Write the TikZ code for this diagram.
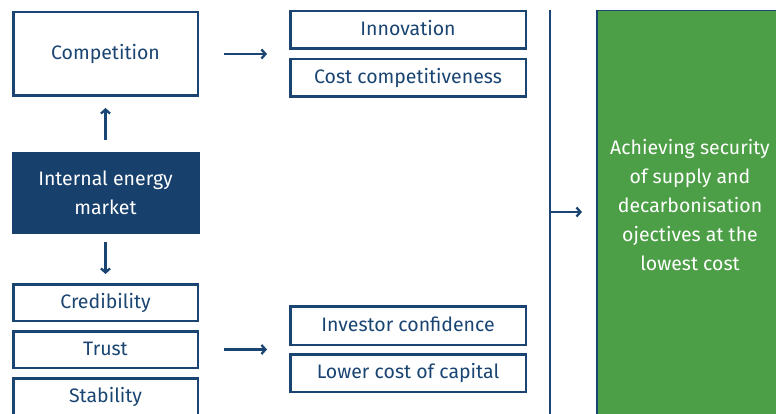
\documentclass[tikz,border=0pt]{standalone}
\usepackage{fontspec}
\setmainfont{Fira Sans}
\usetikzlibrary{arrows.meta,calc}
\definecolor{navy}{HTML}{1A4572}
\definecolor{navyfill}{HTML}{17406D}
\definecolor{goalgreen}{HTML}{4C9F46}
\begin{document}
\begin{tikzpicture}[x=1pt,y=-1pt,
  box/.style={draw=navy, line width=2.5pt, inner sep=0pt, text=navy, font=\fontsize{19.5}{22}\selectfont, text height=14pt, text depth=3pt, minimum width=184.5pt},
  darkbox/.style={fill=navyfill, draw=navyfill, line width=0pt, inner sep=0pt, text=white, align=center, font=\fontsize{19.5}{29}\selectfont, minimum width=187pt, minimum height=80pt},
  goalbox/.style={fill=goalgreen, draw=navy, line width=1.5pt, minimum width=188pt, minimum height=420pt, anchor=north west, inner sep=0pt},
  goaltext/.style={text=white, align=center, font=\fontsize{19.5}{28.8}\selectfont, inner sep=0pt},
  arr/.style={draw=navy, line width=2.3pt, -{Straight Barb[length=4pt,width=9pt]}},
  vline/.style={draw=navy, line width=2.2pt}]
\useasboundingbox[fill=white] (0,0) rectangle (776,414);
\node[box, minimum height=83.5pt] (comp) at (105.5,54) {Competition};
\node[box, minimum width=235.5pt, minimum height=37.5pt] (innov) at (408,30) {Innovation};
\node[box, minimum width=235.5pt, minimum height=37.5pt] (cost) at (408,78) {Cost competitiveness};
\node[darkbox] (iem) at (105.5,193) {Internal energy\\market};
\node[box, minimum height=36.5pt] (cred) at (105.5,302.5) {Credibility};
\node[box, minimum height=36.5pt] (trust) at (105.5,349.5) {Trust};
\node[box, minimum height=36.5pt] (stab) at (105.5,396.5) {Stability};
\node[box, minimum width=235.5pt, minimum height=38.5pt] (inv) at (408,325.5) {Investor confidence};
\node[box, minimum width=235.5pt, minimum height=37.5pt] (low) at (408,373) {Lower cost of capital};
\node[goalbox] (goal) at (596,10) {};
\node[goaltext] (goaltxt) at (690,205) {Achieving security\\of supply and\\decarbonisation\\ojectives at the\\lowest cost};
\coordinate (vtop) at (550,10);
\coordinate (vbot) at (550,420);
\coordinate (vmid) at (550,212);
\draw[vline] (vtop) -- (vbot);
\draw[arr, shorten <=25pt, shorten >=22pt] (comp.east) -- (comp.east -| innov.west);
\draw[arr, shorten <=13pt, shorten >=11pt] (iem.north) -- (comp.south);
\draw[arr, shorten <=9pt, shorten >=9pt] (iem.south) -- (cred.north);
\draw[arr, shorten <=25pt, shorten >=22pt] (trust.east) -- (trust.east -| inv.west);
\draw[arr, shorten >=14pt] (vmid) -- (vmid -| goal.west);
\end{tikzpicture}
\end{document}
